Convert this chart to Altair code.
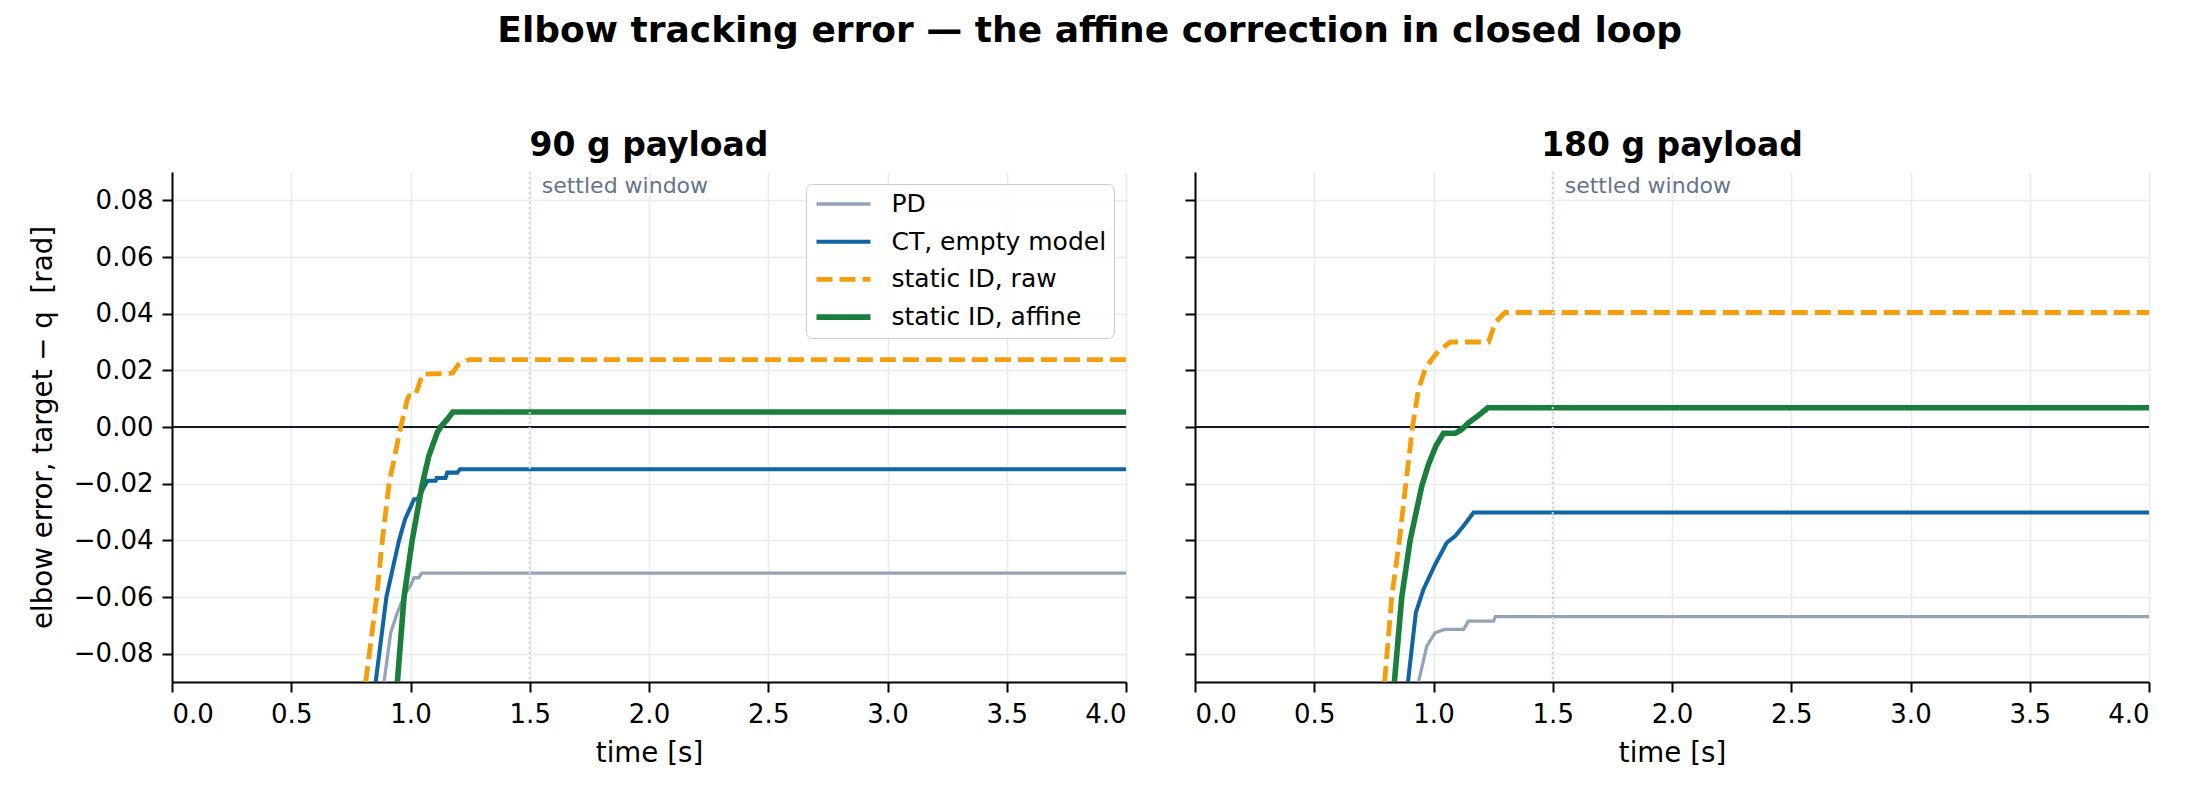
import pandas as pd
import altair as alt

# legend order / series
series_names = ["PD", "CT, empty model", "static ID, raw", "static ID, affine"]
series_colors = ["#94a3b8", "#0f66a3", "#f59e0b", "#1a7f3c"]
series_dashes = [[1, 0], [1, 0], [16, 7], [1, 0]]

x_ticks = [0.0, 0.5, 1.0, 1.5, 2.0, 2.5, 3.0, 3.5, 4.0]
y_ticks = [-0.08, -0.06, -0.04, -0.02, 0.0, 0.02, 0.04, 0.06, 0.08]
settle_t = 1.5

# 90 g payload
t90_pd = [0.889, 0.917, 0.945, 0.98, 1.0, 1.015, 1.035, 1.047, 4.0]
e90_pd = [-0.09, -0.0726, -0.0655, -0.0585, -0.056, -0.0532, -0.0532, -0.0516, -0.0516]
t90_ct = [0.854, 0.899, 0.928, 0.952, 0.977, 1.015, 1.029, 1.071, 1.105, 1.11, 1.147, 1.154, 1.196, 1.208, 4.0]
e90_ct = [-0.09, -0.06, -0.049, -0.04, -0.0326, -0.0255, -0.0255, -0.019, -0.019, -0.018, -0.018, -0.0161, -0.0161, -0.0149, -0.0149]
t90_raw = [0.812, 0.858, 0.882, 0.910, 0.959, 0.987, 0.994, 1.02, 1.05, 1.176, 1.2, 1.245, 4.0]
e90_raw = [-0.09, -0.06, -0.04, -0.02, 0.0, 0.0098, 0.011, 0.011, 0.0186, 0.019, 0.022, 0.0238, 0.0238]
t90_aff = [0.945, 0.973, 1.007, 1.05, 1.077, 1.112, 1.126, 1.154, 1.178, 4.0]
e90_aff = [-0.09, -0.06, -0.04, -0.02, -0.0102, -0.002, 0.0, 0.0027, 0.0053, 0.0053]

# 180 g payload
t180_pd = [0.937, 0.972, 1.007, 1.049, 1.126, 1.147, 1.252, 1.259, 4.0]
e180_pd = [-0.09, -0.0773, -0.0726, -0.0714, -0.0714, -0.0685, -0.0685, -0.0669, -0.0669]
t180_ct = [0.893, 0.926, 0.958, 1.007, 1.056, 1.091, 1.126, 1.168, 4.0]
e180_ct = [-0.09, -0.0655, -0.0573, -0.0485, -0.0408, -0.0385, -0.0349, -0.0302, -0.0302]
t180_raw = [0.795, 0.825, 0.857, 0.884, 0.912, 0.937, 0.965, 0.993, 1.021, 1.07, 1.231, 1.258, 1.3, 4.0]
e180_raw = [-0.09, -0.06, -0.04, -0.02, 0.0, 0.0133, 0.0204, 0.0239, 0.0268, 0.030, 0.030, 0.0368, 0.0404, 0.0404]
t180_aff = [0.836, 0.867, 0.902, 0.951, 0.979, 1.01, 1.042, 1.091, 1.119, 1.147, 1.189, 1.228, 4.0]
e180_aff = [-0.09, -0.06, -0.04, -0.0208, -0.0132, -0.0067, -0.0022, -0.0022, -0.0008, 0.0015, 0.0041, 0.0068, 0.0068]

runs = {
    "90 g payload": [(t90_pd, e90_pd), (t90_ct, e90_ct), (t90_raw, e90_raw), (t90_aff, e90_aff)],
    "180 g payload": [(t180_pd, e180_pd), (t180_ct, e180_ct), (t180_raw, e180_raw), (t180_aff, e180_aff)],
}

rows = []
for panel_name, series in runs.items():
    for name, (ts, es) in zip(series_names, series):
        for i, (t, e) in enumerate(zip(ts, es)):
            rows.append({"panel": panel_name, "series": name, "t": t, "e": e, "i": i})
df = pd.DataFrame(rows)

FONT = "DejaVu Sans"


def make_panel(panel_name, first):
    data = df[df.panel == panel_name]

    y_axis = dict(values=y_ticks, format=".2f", labels=first, titleFontSize=27.7,
                  titleFont=FONT, titleFontWeight="normal", titleColor="black")
    y_axis["title"] = "elbow error, target \u2212 q\u00a0 [rad]" if first else ""
    x_enc = alt.X("t:Q", scale=alt.Scale(domain=[0, 4], nice=False),
                  axis=alt.Axis(values=x_ticks, format=".1f", title="time [s]", titleFontSize=27.7,
                                titleFont=FONT, titleFontWeight="normal", titleColor="black"))
    y_enc = alt.Y("e:Q", scale=alt.Scale(domain=[-0.09, 0.09], nice=False),
                  axis=alt.Axis(**y_axis))

    leg = alt.Legend(title=None, orient="none", legendX=634, legendY=12,
                     symbolType="stroke", symbolSize=2916, labelFontSize=25,
                     labelFont=FONT, labelColor="black", labelOffset=18, labelLimit=0,
                     clipHeight=25, rowPadding=11.7, padding=7.5,
                     fillColor="rgba(255,255,255,0.8)", strokeColor="#cccccc", cornerRadius=6)
    leg_kw = {"legend": leg} if first else {"legend": None}

    color = alt.Color("series:N", scale=alt.Scale(domain=series_names, range=series_colors), **leg_kw)
    dash = alt.StrokeDash("series:N", scale=alt.Scale(domain=series_names, range=series_dashes), **leg_kw)
    width = alt.StrokeWidth("series:N", scale=alt.Scale(type="point", domain=series_names, range=[3.3, 5.6]), **leg_kw)

    zero = alt.Chart(pd.DataFrame({"e": [0.0]})).mark_rule(color="#111827", strokeWidth=2.2).encode(y=y_enc)

    lines = []
    for name in series_names:
        lines.append(
            alt.Chart(data[data.series == name]).mark_line(clip=True, strokeCap="butt").encode(
                x=x_enc, y=y_enc, order="i:Q", color=color, strokeDash=dash, strokeWidth=width
            )
        )

    settle = alt.Chart(pd.DataFrame({"t": [settle_t]})).mark_rule(
        color="#cbd5e1", strokeWidth=2, strokeDash=[2, 3]
    ).encode(x=x_enc)

    note = alt.Chart(pd.DataFrame({"t": [settle_t], "e": [0.09], "txt": ["settled window"]})).mark_text(
        align="left", baseline="top", dx=12, dy=4, fontSize=22, font=FONT, color="#64748b"
    ).encode(x=x_enc, y=y_enc, text="txt:N")

    return alt.layer(zero, *lines, settle, note).properties(
        width=954, height=510, title=panel_name
    )


left = make_panel("90 g payload", True)
right = make_panel("180 g payload", False)

chart = alt.hconcat(left, right, spacing=69, bounds="flush").resolve_legend(
    color="independent", strokeDash="independent", strokeWidth="independent"
).properties(
    title=alt.TitleParams(
        "Elbow tracking error \u2014 the affine correction in closed loop",
        fontSize=36, fontWeight="bold", font=FONT, color="black",
        anchor="middle", frame="bounds", offset=80
    ),
    padding={"left": 21, "top": 4, "right": 5, "bottom": 5},
).configure_view(
    stroke=None
).configure_axis(
    domainColor="black", domainWidth=2, tickColor="black", tickWidth=2, tickSize=10,
    labelFont=FONT, labelFontSize=26, labelColor="black", labelPadding=9,
    titleFont=FONT, titleFontSize=27.7, titleFontWeight="normal", titleColor="black",
    gridColor="#ebebeb", gridWidth=1.6
).configure_axisX(
    titlePadding=12.5
).configure_axisY(
    titlePadding=16
).configure_title(
    font=FONT, fontSize=33, fontWeight="bold", color="black", offset=8.5
)

chart.save("out.html", embed_options={"renderer": "svg", "actions": False})
